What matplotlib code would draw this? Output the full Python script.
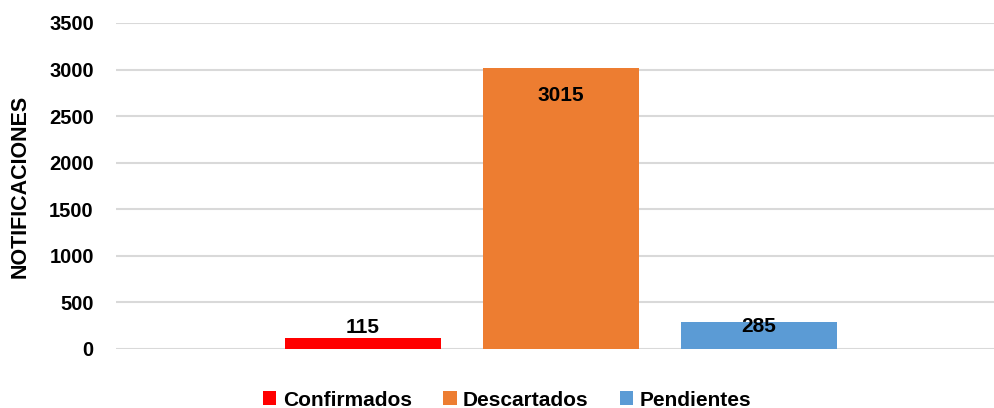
import matplotlib
matplotlib.use("Agg")
import matplotlib.pyplot as plt
from matplotlib.patches import Patch

series = ["Confirmados", "Descartados", "Pendientes"]
values = [115, 3015, 285]
colors = ["#FF0000", "#ED7D31", "#5B9BD5"]
yticks = [0, 500, 1000, 1500, 2000, 2500, 3000, 3500]
ylabel = "NOTIFICACIONES"

plt.rcParams['font.family'] = ['Liberation Sans', 'DejaVu Sans']
plt.rcParams['font.weight'] = 'bold'

fig = plt.figure(figsize=(9.94, 4.08), dpi=100)
ax = fig.add_axes([116/994, 1-349/408, 890/994, (349-23)/408])

pos = [-1, 0, 1]
bars = ax.bar(pos, values, width=0.788, color=colors, zorder=3)

# label offsets in points relative to bar top
offsets = [8, -20, -3]
for x, v, off in zip(pos, values, offsets):
    ax.annotate(str(v), (x, v), xytext=(0, off), textcoords='offset points',
                ha='center', va='center', fontsize=15, fontweight='bold', zorder=4)

ax.set_xlim(-2.247, 2.247)
ax.set_ylim(0, 3500)
ax.set_yticks(yticks)
ax.set_yticklabels([str(t) for t in yticks], fontsize=14.5, fontweight='bold')
ax.set_xticks([])
ax.yaxis.grid(True, color="#D9D9D9", linewidth=1.5, zorder=0)
ax.tick_params(axis='y', length=0, pad=16)
for s in ax.spines.values():
    s.set_visible(False)
ax.set_ylabel(ylabel, fontsize=15.5, fontweight='bold')
ax.yaxis.set_label_coords(-(116-31)/890, (349-186)/326)

handles = [Patch(facecolor=c, edgecolor='none') for c in colors]
fig.legend(handles, series, loc='center', bbox_to_anchor=(507/994, 1-400/408),
           ncol=3, frameon=False, fontsize=15, handlelength=0.65, handleheight=0.65,
           handletextpad=0.3, columnspacing=1.5, borderpad=0)

fig.savefig("out.png", dpi=100)
